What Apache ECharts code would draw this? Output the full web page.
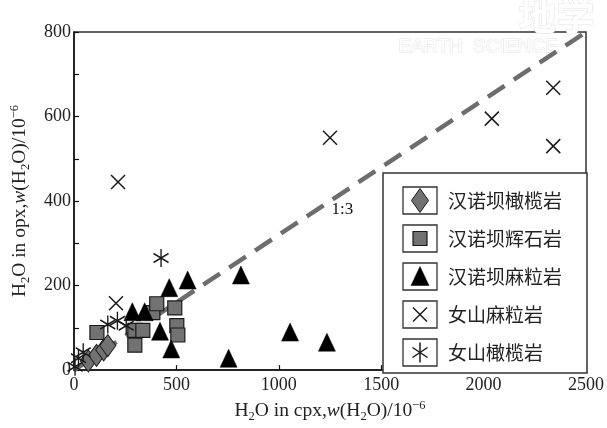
<!DOCTYPE html>
<html>
<head>
<meta charset="utf-8">
<script src="https://cdn.jsdelivr.net/npm/echarts@6/dist/echarts.min.js"></script>
<style>
html,body{margin:0;padding:0;background:#fff;}
#main{width:607px;height:428px;}
</style>
</head>
<body>
<div id="main"></div>
<script>
// ---- data (x: H2O in cpx, y: H2O in opx, ppm) ----
var seriesNames = ['汉诺坝橄榄岩', '汉诺坝辉石岩', '汉诺坝麻粒岩', '女山麻粒岩', '女山橄榄岩'];
var hnbPeridotite = [[70, 22], [110, 35], [145, 48], [165, 58]];
var hnbPyroxenite = [[112, 89], [297, 94], [336, 94], [297, 59], [385, 136], [404, 157], [492, 147], [502, 105], [507, 83]];
var hnbGranulite = [[285, 138], [345, 138], [420, 92], [465, 195], [475, 50], [555, 213], [815, 225], [1055, 90], [755, 28], [1235, 66]];
var nsGranulite = [[205, 158], [215, 445], [1250, 550], [2040, 595], [2340, 668], [2340, 530]];
var nsPeridotite = [[5, 8], [22, 28], [45, 42], [165, 108], [212, 117], [255, 105], [425, 265]];
var refLine = [[0, 0], [2500, 800]];
var refLabelPos = [[1310, 380]];
var refLabel = '1:3';
var xTicks = [0, 500, 1000, 1500, 2000, 2500];
var yTicks = [0, 200, 400, 600, 800];

var chart = echarts.init(document.getElementById('main'), null, {renderer: 'canvas'});
var serif = '"Liberation Serif", "DejaVu Serif", serif';
var cjk = '"Noto Sans CJK SC", sans-serif';
var rich = {
  n: {fontSize: 19.5, fontFamily: serif, color: '#222', lineHeight: 24},
  i: {fontSize: 19.5, fontFamily: serif, color: '#222', fontStyle: 'italic', lineHeight: 24},
  s: {fontSize: 12.5, fontFamily: serif, color: '#222', verticalAlign: 'bottom', lineHeight: 24},
  p: {fontSize: 12.5, fontFamily: serif, color: '#222', verticalAlign: 'top', lineHeight: 24}
};
var G = {left: 73, top: 32, right: 20, bottom: 55};

var xPath = 'path://M0,0L10,10M10,0L0,10';
var aPath = 'path://M5,0L5,12M0.5,3L9.5,9M0.5,9L9.5,3';

var grayFill = '#727272';
var dark = '#1a1a1a';

var option = {
  animation: false,
  backgroundColor: '#fff',
  grid: {left: G.left, top: G.top, right: G.right, bottom: G.bottom, show: true, borderColor: '#333', borderWidth: 1.5, backgroundColor: 'transparent'},
  xAxis: {
    type: 'value', min: xTicks[0], max: xTicks[xTicks.length - 1], interval: 500,
    name: '{n|H}{s|2}{n|O in cpx,}{i|w}{n|(H}{s|2}{n|O)/10}{p|−6}',
    nameLocation: 'middle', nameGap: 26,
    nameTextStyle: {rich: rich},
    axisLine: {lineStyle: {color: '#111', width: 1.5}},
    axisTick: {inside: true, length: 5, lineStyle: {color: '#111', width: 1.2}},
    axisLabel: {fontFamily: serif, fontSize: 18, color: '#222', margin: 6,
      formatter: function (v) { return String(v); }},
    splitLine: {show: false}
  },
  yAxis: {
    type: 'value', min: yTicks[0], max: yTicks[yTicks.length - 1], interval: 100,
    name: '{n|H}{s|2}{n|O in opx,}{i|w}{n|(H}{s|2}{n|O)/10}{p|−6}',
    nameLocation: 'middle', nameGap: 42,
    nameTextStyle: {rich: rich},
    axisLine: {lineStyle: {color: '#111', width: 1.5}},
    axisTick: {inside: true, length: 5, lineStyle: {color: '#111', width: 1.2}},
    axisLabel: {fontFamily: serif, fontSize: 18, color: '#222', margin: 3,
      formatter: function (v) { return yTicks.indexOf(v) >= 0 ? String(v) : ''; }},
    splitLine: {show: false}
  },
  series: [
    {type: 'line', data: refLine, symbol: 'none', z: 1, silent: true,
      lineStyle: {color: '#6d6d6d', width: 4.5, type: [20, 11]}},
    {type: 'scatter', data: refLabelPos, symbolSize: 0, z: 1, silent: true,
      itemStyle: {opacity: 1},
      label: {show: true, formatter: refLabel, fontFamily: serif, fontSize: 17, color: '#111', position: 'inside'}},
    {name: seriesNames[0], type: 'scatter', data: hnbPeridotite, symbol: 'diamond', symbolSize: [16, 22], z: 3,
      itemStyle: {color: grayFill, borderColor: dark, borderWidth: 1, opacity: 1}},
    {name: seriesNames[1], type: 'scatter', data: hnbPyroxenite, symbol: 'rect', symbolSize: 14, z: 3,
      itemStyle: {color: grayFill, borderColor: dark, borderWidth: 1.2, opacity: 1}},
    {name: seriesNames[2], type: 'scatter', data: hnbGranulite, symbol: 'triangle', symbolSize: [17, 18], z: 4,
      itemStyle: {color: '#000', borderColor: '#000', borderWidth: 0.5, opacity: 1}},
    {name: seriesNames[3], type: 'scatter', data: nsGranulite, symbol: xPath, symbolSize: 14, z: 4,
      itemStyle: {color: 'transparent', borderColor: dark, borderWidth: 1.5, opacity: 1}},
    {name: seriesNames[4], type: 'scatter', data: nsPeridotite, symbol: aPath, symbolSize: [15, 18], z: 4,
      itemStyle: {color: 'transparent', borderColor: dark, borderWidth: 1.5, opacity: 1}}
  ]
};

// legend drawn as graphic (box, framed icons, labels)
var lgX = 383, lgY = 173, lgW = 607 - G.right - 383, lgH = 428 - G.bottom - 173;
var rowY0 = 200.5, rowStep = 38, fx = 403, fw = 34, fh = 27, cx = fx + fw / 2;
var gfx = [
  {type: 'text', left: 398, top: 37, z: 0, silent: true,
    style: {text: 'EARTH  SCIENCE', fontFamily: '"Liberation Sans", sans-serif', fontSize: 19, fill: '#fff', stroke: '#e2e2e2', lineWidth: 1}},
  {type: 'text', left: 518, top: -4, z: 0, silent: true,
    style: {text: '地学', fontFamily: cjk, fontSize: 38, fontWeight: 'bold', fill: '#fff', stroke: '#e4e4e4', lineWidth: 1.2}},
  {type: 'rect', shape: {x: lgX, y: lgY, width: lgW, height: lgH}, z: 10,
    style: {fill: '#fff', stroke: '#333', lineWidth: 1.5}}
];
for (var k = 0; k < seriesNames.length; k++) {
  var cy = rowY0 + k * rowStep;
  gfx.push({type: 'rect', shape: {x: fx, y: cy - fh / 2, width: fw, height: fh}, z: 11,
    style: {fill: '#fff', stroke: '#333', lineWidth: 1.3}});
  gfx.push({type: 'text', x: 448, y: cy, z: 11,
    style: {text: seriesNames[k], fontFamily: cjk, fontSize: 19, fill: '#222', textVerticalAlign: 'middle', textAlign: 'left'}});
}
// icons
var c0 = rowY0, c1 = rowY0 + rowStep, c2 = rowY0 + 2 * rowStep, c3 = rowY0 + 3 * rowStep, c4 = rowY0 + 4 * rowStep;
gfx.push({type: 'polygon', z: 12, shape: {points: [[cx, c0 - 12], [cx + 8.5, c0], [cx, c0 + 12], [cx - 8.5, c0]]},
  style: {fill: grayFill, stroke: dark, lineWidth: 1}});
gfx.push({type: 'rect', z: 12, shape: {x: cx - 7, y: c1 - 7, width: 14, height: 14},
  style: {fill: grayFill, stroke: dark, lineWidth: 1.2}});
gfx.push({type: 'polygon', z: 12, shape: {points: [[cx, c2 - 10], [cx + 9, c2 + 9], [cx - 9, c2 + 9]]},
  style: {fill: '#000', stroke: '#000', lineWidth: 0.5}});
gfx.push({type: 'line', z: 12, shape: {x1: cx - 7, y1: c3 - 7, x2: cx + 7, y2: c3 + 7}, style: {stroke: dark, lineWidth: 1.5}});
gfx.push({type: 'line', z: 12, shape: {x1: cx + 7, y1: c3 - 7, x2: cx - 7, y2: c3 + 7}, style: {stroke: dark, lineWidth: 1.5}});
gfx.push({type: 'line', z: 12, shape: {x1: cx, y1: c4 - 10, x2: cx, y2: c4 + 10}, style: {stroke: dark, lineWidth: 1.5}});
gfx.push({type: 'line', z: 12, shape: {x1: cx - 7.5, y1: c4 - 5, x2: cx + 7.5, y2: c4 + 5}, style: {stroke: dark, lineWidth: 1.5}});
gfx.push({type: 'line', z: 12, shape: {x1: cx - 7.5, y1: c4 + 5, x2: cx + 7.5, y2: c4 - 5}, style: {stroke: dark, lineWidth: 1.5}});
option.graphic = gfx;

chart.setOption(option);
</script>
</body>
</html>
